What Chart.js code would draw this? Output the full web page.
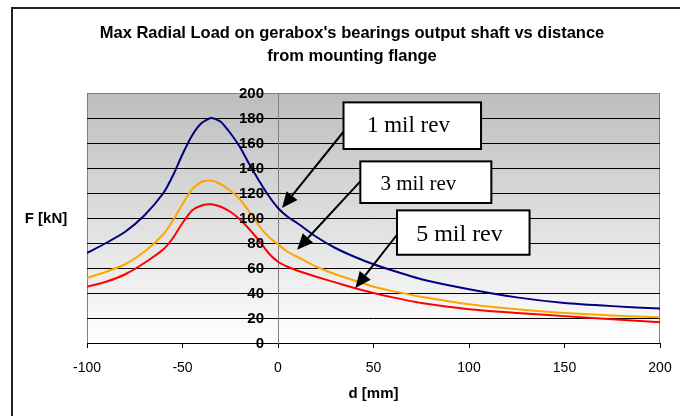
<!DOCTYPE html>
<html>
<head>
<meta charset="utf-8">
<script src="https://cdn.jsdelivr.net/npm/chart.js@4"></script>
<style>
  body { margin: 0; background: #fff; overflow: hidden; }
  #radialLoadChart { display: block; }
</style>
</head>
<body>
<canvas id="radialLoadChart" width="680" height="416"></canvas>
<script>
// distance from mounting flange [mm]
var distance = [-100, -90, -80, -70, -60, -55, -50, -45, -40, -35, -30, -25, -20, -15, -10, -5, 0, 5, 10, 20, 30, 40, 50, 60, 75, 100, 125, 150, 175, 200];
// max radial load [kN]
var load1mil = [72, 80, 89, 102, 120, 134, 151, 166, 176, 180, 177, 168, 157, 143, 130, 118, 108, 101, 96, 85, 76, 69, 63, 58, 51, 43, 36.5, 32, 29.5, 27.5];
var load3mil = [52, 57, 63, 73, 87, 98, 111, 123, 129, 130, 127, 122, 115, 105, 94, 85, 79, 73, 69, 61, 55, 50, 45, 41.5, 37, 31, 27, 24, 22, 20.5];
var load5mil = [45, 49, 55, 64, 75, 84, 96, 106, 110, 111, 109, 105, 99, 91, 82, 72, 65, 61, 58, 53, 48.5, 44, 40, 36.5, 32, 27, 24, 21.5, 19, 16.5];

var xTicks = [-100, -50, 0, 50, 100, 150, 200];
var yTicks = [0, 20, 40, 60, 80, 100, 120, 140, 160, 180, 200];

var titleLines = ["Max Radial Load on gerabox's bearings output shaft vs distance", "from mounting flange"];

// callout labels (in data units: box corners, text anchor, arrow from -> to)
var calloutText = ["1 mil rev", "3 mil rev", "5 mil rev"];
var calloutBox = [[34.3, 192.5, 106.3, 155.2], [43.1, 145.3, 111.7, 112], [62.3, 106.1, 131.7, 70.6]];
var calloutTextAt = [[68.3, 173.5], [73.5, 126.5], [95, 87]];
var calloutFont = [23, 21, 24];
var calloutArrow = [[34.3, 169, 2.1, 108], [43.1, 129.3, 10, 74.6], [62.3, 86.6, 40.5, 44]];

function toPoints(values) {
    return distance.map(function (d, i) { return { x: d, y: values[i] }; });
}

var decorPlugin = {
    id: 'decor',
    beforeDraw: function (chart) {
        var ctx = chart.ctx, a = chart.chartArea;
        ctx.save();
        var g = ctx.createLinearGradient(0, a.top, 0, a.bottom);
        g.addColorStop(0, '#bdbdbd');
        g.addColorStop(1, '#ffffff');
        ctx.fillStyle = g;
        ctx.fillRect(a.left, a.top, a.right - a.left, a.bottom - a.top);
        ctx.strokeStyle = '#808080';
        ctx.lineWidth = 1;
        ctx.strokeRect(a.left + 0.5, a.top + 0.5, a.right - a.left - 1, a.bottom - a.top);
        // outer frame (only top and left edges are inside the picture)
        ctx.strokeStyle = '#222';
        ctx.lineWidth = 2;
        ctx.beginPath();
        ctx.moveTo(12, 420);
        ctx.lineTo(12, 8);
        ctx.lineTo(680, 8);
        ctx.stroke();
        // title
        ctx.fillStyle = '#000';
        ctx.font = 'bold 16.5px "Liberation Sans", Arial, sans-serif';
        ctx.textAlign = 'center';
        ctx.textBaseline = 'middle';
        ctx.fillText(titleLines[0], 352, 33);
        ctx.fillText(titleLines[1], 352, 56);
        // y title
        ctx.font = 'bold 15px "Liberation Sans", Arial, sans-serif';
        ctx.fillText('F [kN]', 46, 219);
        ctx.restore();
    },
    afterDatasetsDraw: function (chart) {
        var ctx = chart.ctx, xs = chart.scales.x, ys = chart.scales.y;
        ctx.save();
        // y tick labels sit left of the axis at d = 0
        var axisX = xs.getPixelForValue(0);
        ctx.fillStyle = '#000';
        ctx.font = 'bold 15px "Liberation Sans", Arial, sans-serif';
        ctx.textAlign = 'right';
        ctx.textBaseline = 'middle';
        yTicks.forEach(function (v) {
            ctx.fillText(String(v), axisX - 14, ys.getPixelForValue(v) + 1);
        });
        calloutArrow.forEach(function (ar) {
            var x1 = xs.getPixelForValue(ar[0]), y1 = ys.getPixelForValue(ar[1]);
            var x2 = xs.getPixelForValue(ar[2]), y2 = ys.getPixelForValue(ar[3]);
            var ang = Math.atan2(y2 - y1, x2 - x1);
            var len = 16, wid = 7;
            var bx = x2 - len * Math.cos(ang), by = y2 - len * Math.sin(ang);
            ctx.strokeStyle = '#000';
            ctx.lineWidth = 2;
            ctx.beginPath();
            ctx.moveTo(x1, y1);
            ctx.lineTo(bx, by);
            ctx.stroke();
            ctx.fillStyle = '#000';
            ctx.beginPath();
            ctx.moveTo(x2, y2);
            ctx.lineTo(bx + wid * Math.sin(ang), by - wid * Math.cos(ang));
            ctx.lineTo(bx - wid * Math.sin(ang), by + wid * Math.cos(ang));
            ctx.closePath();
            ctx.fill();
        });
        calloutBox.forEach(function (b, i) {
            var l = xs.getPixelForValue(b[0]), t = ys.getPixelForValue(b[1]);
            var r = xs.getPixelForValue(b[2]), btm = ys.getPixelForValue(b[3]);
            ctx.fillStyle = '#fff';
            ctx.fillRect(l, t, r - l, btm - t);
            ctx.strokeStyle = '#000';
            ctx.lineWidth = 2;
            ctx.strokeRect(l, t, r - l, btm - t);
            ctx.fillStyle = '#000';
            ctx.font = calloutFont[i] + 'px "Liberation Serif", "Times New Roman", serif';
            ctx.textAlign = 'center';
            ctx.textBaseline = 'middle';
            ctx.fillText(calloutText[i], xs.getPixelForValue(calloutTextAt[i][0]), ys.getPixelForValue(calloutTextAt[i][1]));
        });
        ctx.restore();
    }
};

new Chart("radialLoadChart", {
    type: 'line',
    data: {
        datasets: [{
            label: '1 mil rev',
            data: toPoints(load1mil),
            borderColor: '#000080',
            borderWidth: 2,
            pointRadius: 0,
            tension: 0.2
        }, {
            label: '3 mil rev',
            data: toPoints(load3mil),
            borderColor: '#FFA500',
            borderWidth: 2,
            pointRadius: 0,
            tension: 0.2
        }, {
            label: '5 mil rev',
            data: toPoints(load5mil),
            borderColor: '#FF0000',
            borderWidth: 2,
            pointRadius: 0,
            tension: 0.2
        }]
    },
    options: {
        responsive: false,
        animation: false,
        layout: { padding: { left: 87, right: 20, top: 93, bottom: 0 } },
        plugins: {
            legend: { display: false },
            tooltip: { enabled: false }
        },
        scales: {
            x: {
                type: 'linear',
                min: -100,
                max: 200,
                afterBuildTicks: function (scale) {
                    scale.ticks = xTicks.map(function (v) { return { value: v }; });
                },
                afterFit: function (scale) {
                    scale.height = 73;
                    scale.paddingLeft = 0;
                    scale.paddingRight = 0;
                },
                grid: { drawOnChartArea: false, drawTicks: true, tickLength: 5, color: '#000' },
                border: { color: '#000', width: 1 },
                ticks: {
                    color: '#000',
                    padding: 12,
                    maxRotation: 0,
                    font: { family: '"Liberation Sans", Arial, sans-serif', size: 14 }
                },
                title: {
                    display: true,
                    text: 'd [mm]',
                    color: '#000',
                    padding: { top: 0, bottom: 13 },
                    font: { family: '"Liberation Sans", Arial, sans-serif', size: 15, weight: 'bold' }
                }
            },
            y: {
                type: 'linear',
                position: { x: 0 },
                min: 0,
                max: 200,
                afterBuildTicks: function (scale) {
                    scale.ticks = yTicks.map(function (v) { return { value: v }; });
                },
                grid: {
                    color: function (c) { return c.tick && c.tick.value === 200 ? '#808080' : '#000'; },
                    tickLength: 6,
                    drawTicks: true
                },
                border: { color: '#808080', width: 1 },
                ticks: { display: false }
            }
        }
    },
    plugins: [decorPlugin]
});
</script>
</body>
</html>
